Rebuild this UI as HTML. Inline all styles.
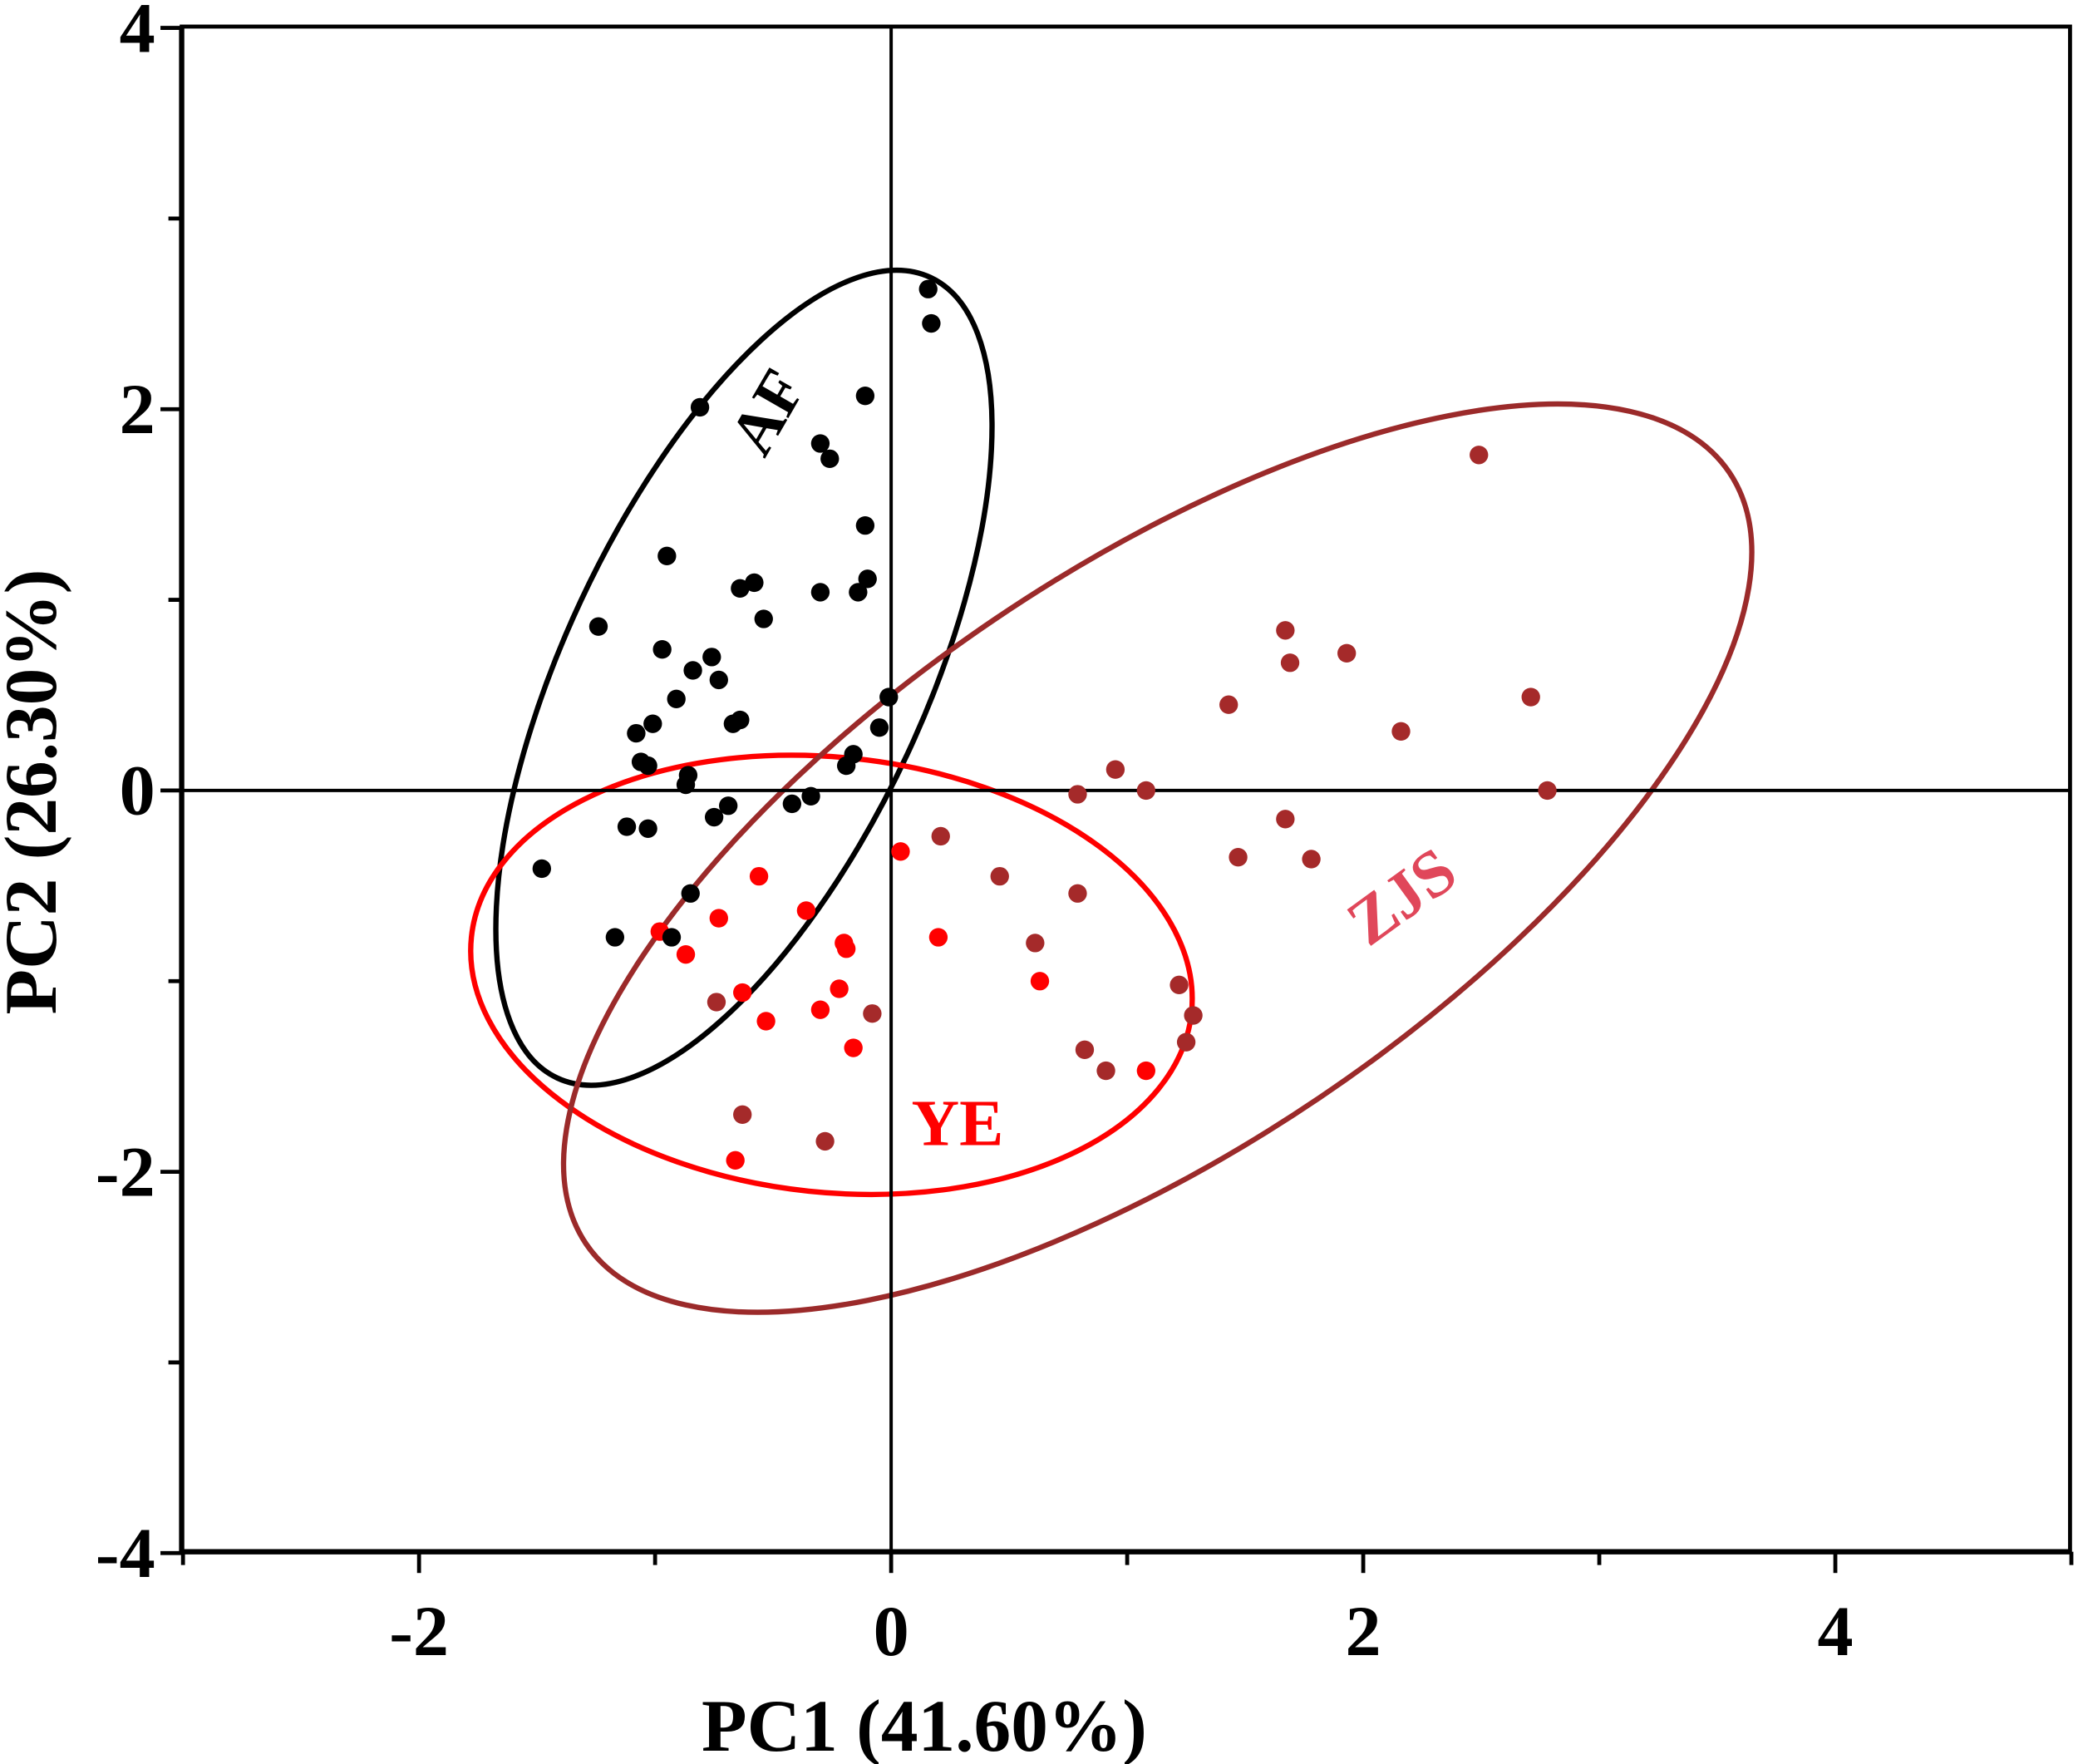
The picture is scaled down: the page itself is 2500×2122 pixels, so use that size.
<!DOCTYPE html>
<html><head><meta charset="utf-8"><style>
html,body{margin:0;padding:0;background:#fff;}
svg{display:block;}
text{font-family:"Liberation Serif",serif;font-weight:bold;}
</style></head><body>
<svg id="chart" width="2500" height="2122" viewBox="0 0 1567 1330" xmlns="http://www.w3.org/2000/svg">
<rect width="1567" height="1330" fill="#fff"/>
<g id="ellipses" fill="none" stroke-width="4">
<ellipse cx="561" cy="511" rx="333" ry="136" transform="rotate(-65 561 511)" stroke="#000"/>
<ellipse cx="627" cy="735" rx="273" ry="164" transform="rotate(6 627 735)" stroke="#f00"/>
<ellipse cx="873" cy="647" rx="520" ry="218" transform="rotate(-34 873 647)" stroke="#9b2a2a"/>
</g>
<g id="axes"></g>
<g id="points"></g>
<text x="583" y="313" font-size="48" fill="#000" text-anchor="middle" dominant-baseline="middle" transform="rotate(-60 583 313)">AF</text>
<text x="722" y="852" font-size="50" fill="#f00" text-anchor="middle" dominant-baseline="middle">YE</text>
<text x="1060" y="680" font-size="50" fill="#e0475a" text-anchor="middle" dominant-baseline="middle" transform="rotate(-36 1060 680)">ZJS</text>
<text x="697" y="1320" font-size="56" text-anchor="middle">PC1 (41.60%)</text>
<text x="42" y="597" font-size="56" text-anchor="middle" transform="rotate(-90 42 597)">PC2 (26.30%)</text>
</svg>
<script>
const xTicks=[-3,-2,-1,0,1,2,3,4,5];
const xTickLabels=["","-2","","0","","2","","4",""];
const yTicks=[-4,-3,-2,-1,0,1,2,3,4];
const yTickLabels=["-4","","-2","","0","","2","","4"];
const afX=[0.157,0.17,-0.11,-0.81,-0.30,-0.26,-0.11,-0.95,-0.58,-0.64,-0.30,-0.10,-0.14,-0.54,-1.24,-0.97,-0.76,-0.84,-0.73,-0.91,-0.01,-1.01,-0.64,-0.67,-1.08,-0.05,-1.06,-1.03,-0.16,-0.19,-0.86,-0.87,-0.69,-0.75,-0.42,-0.34,-1.12,-1.03,-1.48,-0.85,-1.17,-0.93];
const afY=[2.63,2.45,2.07,2.01,1.82,1.74,1.39,1.23,1.09,1.06,1.04,1.11,1.04,0.90,0.86,0.74,0.70,0.63,0.58,0.48,0.49,0.35,0.37,0.35,0.30,0.33,0.15,0.13,0.19,0.13,0.08,0.03,-0.08,-0.14,-0.07,-0.03,-0.19,-0.20,-0.41,-0.54,-0.77,-0.77];
const yeX=[0.04,-0.56,-0.36,-0.73,-0.98,-0.20,-0.19,0.20,-0.87,0.63,-0.22,-0.63,-0.30,-0.53,-0.16,1.08,-0.66];
const yeY=[-0.32,-0.45,-0.63,-0.67,-0.74,-0.80,-0.83,-0.77,-0.86,-1.00,-1.04,-1.06,-1.15,-1.21,-1.35,-1.47,-1.94];
const zjsX=[2.49,1.67,1.69,1.93,2.71,1.43,2.16,0.95,0.79,1.08,2.78,1.67,1.47,1.78,0.21,0.46,0.79,0.61,1.22,1.28,1.25,0.82,0.91,-0.08,-0.74,-0.63,-0.28];
const zjsY=[1.76,0.84,0.67,0.72,0.49,0.45,0.31,0.11,-0.02,0.0,0.0,-0.15,-0.35,-0.36,-0.24,-0.45,-0.54,-0.80,-1.02,-1.18,-1.32,-1.36,-1.47,-1.17,-1.11,-1.70,-1.84];

const NS="http://www.w3.org/2000/svg";
const L=137,R=1561,T=20,B=1170;
function sx(v){return 672+v*178;}
function sy(v){return 596-v*143.75;}
function mk(tag,attrs,parent){const e=document.createElementNS(NS,tag);for(const k in attrs)e.setAttribute(k,attrs[k]);parent.appendChild(e);return e;}
const ax=document.getElementById('axes');
let e;
e=mk('rect',{x:L,y:T,width:R-L,height:B-T,fill:'none',stroke:'#000','stroke-width':3},ax);


e=mk('line',{x1:L,y1:sy(0),x2:R,y2:sy(0),stroke:'#000','stroke-width':2.5},ax);


e=mk('line',{x1:sx(0),y1:T,x2:sx(0),y2:B,stroke:'#000','stroke-width':2.5},ax);


e=mk('line',{x1:L,y1:T,x2:L,y2:B,stroke:'#000','stroke-width':4},ax);


e=mk('line',{x1:L,y1:B,x2:R,y2:B,stroke:'#000','stroke-width':4},ax);


xTicks.forEach((v,i)=>{
  const major=xTickLabels[i]!=="";
  const t=mk('line',{x1:sx(v),y1:B,x2:sx(v),y2:B+(major?16:10),stroke:'#000','stroke-width':3},ax);
  
  
  if(major){const tx=mk('text',{x:sx(v),y:B+78,'font-size':54,'text-anchor':'middle'},ax);tx.textContent=xTickLabels[i];
  
  }
});
yTicks.forEach((v,i)=>{
  const major=yTickLabels[i]!=="";
  const t=mk('line',{x1:L,y1:sy(v),x2:L-(major?16:10),y2:sy(v),stroke:'#000','stroke-width':3},ax);
  
  
  if(major){const tx=mk('text',{x:L-20,y:sy(v)+18,'font-size':54,'text-anchor':'end'},ax);tx.textContent=yTickLabels[i];
  
  }
});
const pg=document.getElementById('points');
function series(xs,ys,color,name){
  xs.forEach((v,i)=>{
    const c=mk('circle',{cx:sx(v),cy:sy(ys[i]),r:7,fill:color},pg);
    
    
  });
}
series(zjsX,zjsY,'#a52a2a','zjs-point');
series(yeX,yeY,'#f00','ye-point');
series(afX,afY,'#000','af-point');
</script>
</body></html>
